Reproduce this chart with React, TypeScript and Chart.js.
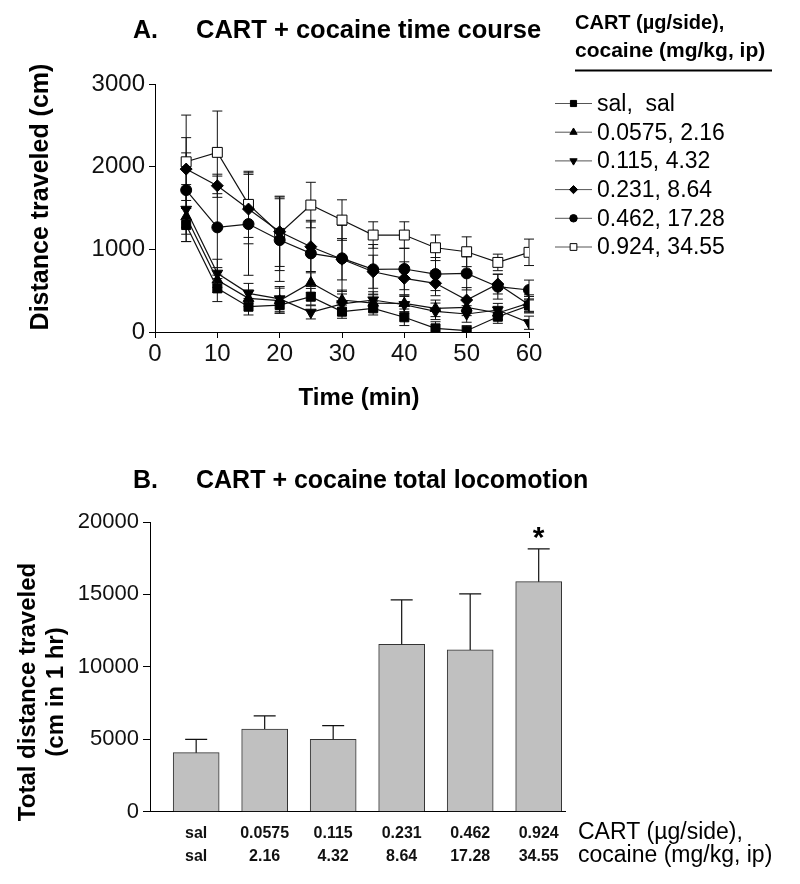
import React, { useEffect, useRef } from 'react';
import { Chart, registerables } from 'chart.js';
Chart.register(...registerables);

const FONT = '"Liberation Sans", Arial, Helvetica, sans-serif';

// ---------- Panel A data ----------
const timePoints = [5, 10, 15, 20, 25, 30, 35, 40, 45, 50, 55, 60];
const seriesLabels = ['sal,  sal', '0.0575, 2.16', '0.115, 4.32', '0.231, 8.64', '0.462, 17.28', '0.924, 34.55'];
const salMean = [1294, 528, 306, 326, 427, 246, 286, 178, 44, 16, 185, 320];
const salSem = [200, 160, 100, 100, 100, 80, 80, 100, 80, 60, 80, 80];
const d0575Mean = [1394, 629, 407, 380, 596, 387, 350, 347, 286, 298, 230, 350];
const d0575Sem = [300, 150, 100, 150, 120, 120, 100, 100, 100, 100, 80, 100];
const d115Mean = [1483, 710, 468, 400, 238, 340, 387, 330, 250, 218, 266, 112];
const d115Sem = [300, 170, 120, 150, 80, 120, 100, 100, 100, 100, 80, 80];
const d231Mean = [1971, 1769, 1487, 1213, 1032, 880, 729, 649, 589, 387, 580, 330];
const d231Sem = [380, 140, 420, 420, 300, 250, 200, 200, 150, 150, 120, 100];
const d462Mean = [1717, 1266, 1306, 1112, 951, 891, 758, 762, 701, 709, 548, 508];
const d462Sem = [450, 620, 620, 500, 400, 400, 300, 250, 200, 200, 150, 120];
const d924Mean = [2059, 2173, 1544, 1193, 1536, 1354, 1173, 1173, 1019, 971, 842, 964];
const d924Sem = [565, 500, 400, 450, 275, 245, 160, 160, 155, 180, 100, 160];

// ---------- Panel B data ----------
const cartDoses = ['sal', '0.0575', '0.115', '0.231', '0.462', '0.924'];
const cocaineDoses = ['sal', '2.16', '4.32', '8.64', '17.28', '34.55'];
const totalMean = [4075, 5710, 5000, 11560, 11170, 15880];
const totalSem = [925, 900, 940, 3060, 3865, 2260];
const significance = ['', '', '', '', '', '*'];

type Marker = { style: string; r: number; fill: string; rot: number };
const markers: Marker[] = [
  { style: 'rect', r: 6.4, fill: '#000', rot: 0 },
  { style: 'triangle', r: 6.2, fill: '#000', rot: 0 },
  { style: 'triangle', r: 6.2, fill: '#000', rot: 180 },
  { style: 'rectRot', r: 6, fill: '#000', rot: 0 },
  { style: 'circle', r: 5.5, fill: '#000', rot: 0 },
  { style: 'rect', r: 7, fill: '#fff', rot: 0 },
];

function drawMarker(ctx: CanvasRenderingContext2D, m: Marker, x: number, y: number, r: number) {
  ctx.save();
  ctx.beginPath();
  if (m.style === 'rect') {
    const s = Math.SQRT2 * r;
    ctx.rect(x - s / 2, y - s / 2, s, s);
  } else if (m.style === 'rectRot') {
    ctx.moveTo(x, y - r);
    ctx.lineTo(x + r, y);
    ctx.lineTo(x, y + r);
    ctx.lineTo(x - r, y);
    ctx.closePath();
  } else if (m.style === 'circle') {
    ctx.arc(x, y, r, 0, Math.PI * 2);
  } else {
    const dir = m.rot === 180 ? -1 : 1;
    ctx.moveTo(x, y - dir * r);
    ctx.lineTo(x + r * 0.866, y + dir * r * 0.5);
    ctx.lineTo(x - r * 0.866, y + dir * r * 0.5);
    ctx.closePath();
  }
  ctx.fillStyle = m.fill;
  ctx.fill();
  ctx.lineWidth = 1;
  ctx.strokeStyle = '#000';
  ctx.stroke();
  ctx.restore();
}

function text(ctx: CanvasRenderingContext2D, s: string, x: number, y: number, font: string, align: CanvasTextAlign = 'left', rot = 0) {
  ctx.save();
  ctx.font = font;
  ctx.fillStyle = '#000';
  ctx.textAlign = align;
  ctx.textBaseline = 'middle';
  ctx.translate(x, y);
  if (rot) ctx.rotate(rot);
  ctx.fillText(s, 0, 0);
  ctx.restore();
}

const panelAMeans = [salMean, d0575Mean, d115Mean, d231Mean, d462Mean, d924Mean];
const panelASems = [salSem, d0575Sem, d115Sem, d231Sem, d462Sem, d924Sem];
const plainNumber = (v: any) => String(v);

export default function App() {
  const refA = useRef<HTMLCanvasElement | null>(null);
  const refB = useRef<HTMLCanvasElement | null>(null);

  useEffect(() => {
    document.body.style.margin = '0';
    const errPluginA = {
      id: 'errA',
      beforeDatasetsDraw(chart: any) {
        const ctx = chart.ctx as CanvasRenderingContext2D;
        const ys = chart.scales.y;
        ctx.save();
        ctx.strokeStyle = '#111';
        ctx.lineWidth = 1;
        chart.data.datasets.forEach((ds: any, di: number) => {
          const meta = chart.getDatasetMeta(di);
          const sems = panelASems[di];
          meta.data.forEach((pt: any, i: number) => {
            const m = panelAMeans[di][i];
            const hi = ys.getPixelForValue(m + sems[i]);
            const loV = m - sems[i];
            const lo = ys.getPixelForValue(Math.max(0, loV));
            ctx.beginPath();
            ctx.moveTo(pt.x, hi);
            ctx.lineTo(pt.x, lo);
            ctx.moveTo(pt.x - 5, hi);
            ctx.lineTo(pt.x + 5, hi);
            if (loV > 0) {
              ctx.moveTo(pt.x - 5, lo);
              ctx.lineTo(pt.x + 5, lo);
            }
            ctx.stroke();
          });
        });
        ctx.restore();
      },
      afterDraw(chart: any) {
        const ctx = chart.ctx as CanvasRenderingContext2D;
        text(ctx, 'A.', 133, 31, `bold 25px ${FONT}`);
        text(ctx, 'CART + cocaine time course', 196, 31, `bold 25.5px ${FONT}`);
        text(ctx, 'CART (\u00b5g/side),', 575, 23, `bold 20px ${FONT}`);
        text(ctx, 'cocaine (mg/kg, ip)', 575, 51, `bold 21px ${FONT}`);
        ctx.save();
        ctx.strokeStyle = '#000';
        ctx.lineWidth = 2;
        ctx.beginPath();
        ctx.moveTo(575, 70.5);
        ctx.lineTo(772, 70.5);
        ctx.stroke();
        ctx.restore();
        seriesLabels.forEach((lab, i) => {
          const y = 103.5 + i * 28.7;
          ctx.save();
          ctx.strokeStyle = '#555';
          ctx.lineWidth = 1;
          ctx.beginPath();
          ctx.moveTo(555, y);
          ctx.lineTo(592, y);
          ctx.stroke();
          ctx.restore();
          drawMarker(ctx, markers[i], 573.5, y, markers[i].r * 0.68);
          text(ctx, lab, 597, y + 1, `23px ${FONT}`);
        });
        text(ctx, 'Distance traveled (cm)', 41, 197, `bold 25px ${FONT}`, 'center', -Math.PI / 2);
        text(ctx, 'Time (min)', 359, 398, `bold 24px ${FONT}`, 'center');
      },
    };

    const chartA = new Chart(refA.current!, {
      type: 'line',
      data: {
        datasets: panelAMeans.map((arr, di) => ({
          label: seriesLabels[di],
          data: arr.map((y, i) => ({ x: timePoints[i], y })),
          borderColor: '#111',
          borderWidth: 1.2,
          backgroundColor: markers[di].fill,
          pointStyle: markers[di].style as any,
          pointRotation: markers[di].rot,
          pointRadius: markers[di].r,
          pointBackgroundColor: markers[di].fill,
          pointBorderColor: '#000',
          pointBorderWidth: 1,
          tension: 0,
        })),
      },
      options: {
        animation: false,
        responsive: false,
        layout: { padding: { left: 0, right: 271, top: 84, bottom: 0 } },
        plugins: { legend: { display: false }, tooltip: { enabled: false } },
        scales: {
          x: {
            type: 'linear',
            min: 0,
            max: 60,
            afterFit: (s: any) => { s.height = 98; },
            ticks: { stepSize: 10, color: '#111', font: { family: FONT, size: 24 }, padding: 2, maxRotation: 0, callback: plainNumber },
            grid: { drawOnChartArea: false, color: '#000', tickLength: 6 },
            border: { color: '#000', width: 1 },
          },
          y: {
            type: 'linear',
            min: 0,
            max: 3000,
            afterFit: (s: any) => { s.width = 155; },
            ticks: { stepSize: 1000, color: '#111', font: { family: FONT, size: 24 }, padding: 4, callback: plainNumber },
            grid: { drawOnChartArea: false, color: '#000', tickLength: 6 },
            border: { color: '#000', width: 1 },
          },
        },
      },
      plugins: [errPluginA],
    });

    const errPluginB = {
      id: 'errB',
      afterDatasetsDraw(chart: any) {
        const ctx = chart.ctx as CanvasRenderingContext2D;
        const ys = chart.scales.y;
        const meta = chart.getDatasetMeta(0);
        ctx.save();
        ctx.strokeStyle = '#111';
        ctx.lineWidth = 1.2;
        meta.data.forEach((bar: any, i: number) => {
          const top = ys.getPixelForValue(totalMean[i]);
          const hi = ys.getPixelForValue(totalMean[i] + totalSem[i]);
          ctx.beginPath();
          ctx.moveTo(bar.x, top);
          ctx.lineTo(bar.x, hi);
          ctx.moveTo(bar.x - 11, hi);
          ctx.lineTo(bar.x + 11, hi);
          ctx.stroke();
          if (significance[i]) {
            text(ctx, significance[i], bar.x, hi - 10, `bold 30px ${FONT}`, 'center');
          }
        });
        ctx.restore();
      },
      afterDraw(chart: any) {
        const ctx = chart.ctx as CanvasRenderingContext2D;
        text(ctx, 'B.', 133, 51, `bold 25px ${FONT}`);
        text(ctx, 'CART + cocaine total locomotion', 196, 51, `bold 25px ${FONT}`);
        text(ctx, 'Total distance traveled', 28, 262, `bold 24px ${FONT}`, 'center', -Math.PI / 2);
        text(ctx, '(cm in 1 hr)', 56, 262, `bold 24px ${FONT}`, 'center', -Math.PI / 2);
        text(ctx, 'CART (\u00b5g/side),', 578, 403, `23px ${FONT}`);
        text(ctx, 'cocaine (mg/kg, ip)', 578, 426, `23px ${FONT}`);
      },
    };

    const chartB = new Chart(refB.current!, {
      type: 'bar',
      data: {
        datasets: [
          {
            label: 'Total distance traveled',
            data: totalMean.map((y, i) => ({ x: i, y })),
            backgroundColor: '#c0c0c0',
            borderColor: '#333',
            borderWidth: 1,
            barThickness: 46,
          },
        ],
      },
      options: {
        animation: false,
        responsive: false,
        layout: { padding: { left: 0, right: 235, top: 92, bottom: 0 } },
        plugins: { legend: { display: false }, tooltip: { enabled: false } },
        scales: {
          x: {
            type: 'linear',
            min: -0.674,
            max: 5.384,
            offset: false,
            afterFit: (s: any) => { s.height = 72.3; },
            afterBuildTicks: (s: any) => { s.ticks = cartDoses.map((_, i) => ({ value: i })); },
            ticks: {
              autoSkip: false,
              maxRotation: 0,
              color: '#111',
              padding: 10,
              font: { family: FONT, size: 16, weight: 'bold', lineHeight: 1.45 },
              callback: (v: any) => [cartDoses[v], cocaineDoses[v]],
            },
            grid: { display: true, drawOnChartArea: false, drawTicks: false, color: '#000' },
            border: { color: '#000', width: 1 },
          },
          y: {
            type: 'linear',
            min: 0,
            max: 20000,
            afterFit: (s: any) => { s.width = 150; },
            ticks: { stepSize: 5000, color: '#111', font: { family: FONT, size: 22 }, padding: 4, callback: plainNumber },
            grid: { drawOnChartArea: false, color: '#000', tickLength: 7 },
            border: { color: '#000', width: 1 },
          },
        },
      },
      plugins: [errPluginB],
    });

    return () => {
      chartA.destroy();
      chartB.destroy();
    };
  }, []);

  return (
    <div style={{ width: 800, height: 884, background: '#fff' }}>
      <canvas ref={refA} width={800} height={430} style={{ display: 'block' }} />
      <canvas ref={refB} width={800} height={454} style={{ display: 'block' }} />
    </div>
  );
}
